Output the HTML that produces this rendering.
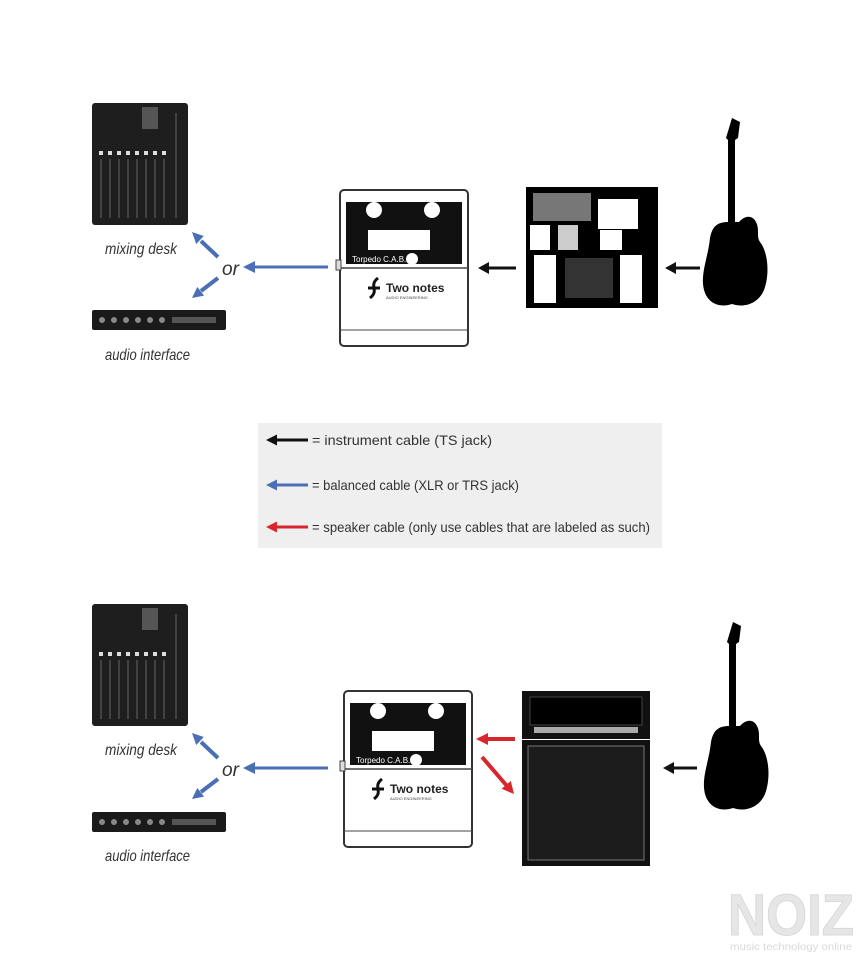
<!DOCTYPE html>
<html><head><meta charset="utf-8"><style>
html,body{margin:0;padding:0;background:#fff;}
svg{display:block;}
text{font-family:"Liberation Sans",sans-serif;}
</style></head><body>
<svg width="865" height="960" viewBox="0 0 865 960" xmlns="http://www.w3.org/2000/svg">
<defs>
<g id="mixer">
<rect x="0" y="0" width="96" height="122" rx="3" fill="#1e1e1e"/>
<rect x="50" y="4" width="16" height="22" fill="#555"/>
<g fill="#ddd"><rect x="7" y="48" width="4" height="4"/><rect x="16" y="48" width="4" height="4"/><rect x="25" y="48" width="4" height="4"/><rect x="34" y="48" width="4" height="4"/><rect x="43" y="48" width="4" height="4"/><rect x="52" y="48" width="4" height="4"/><rect x="61" y="48" width="4" height="4"/><rect x="70" y="48" width="4" height="4"/></g>
<g stroke="#666" stroke-width="1"><line x1="9" y1="56" x2="9" y2="115"/><line x1="18" y1="56" x2="18" y2="115"/><line x1="27" y1="56" x2="27" y2="115"/><line x1="36" y1="56" x2="36" y2="115"/><line x1="45" y1="56" x2="45" y2="115"/><line x1="54" y1="56" x2="54" y2="115"/><line x1="63" y1="56" x2="63" y2="115"/><line x1="72" y1="56" x2="72" y2="115"/><line x1="84" y1="10" x2="84" y2="115"/></g>
</g>
<g id="iface">
<rect x="0" y="0" width="134" height="20" rx="2" fill="#1a1a1a"/>
<g fill="#888"><circle cx="10" cy="10" r="3"/><circle cx="22" cy="10" r="3"/><circle cx="34" cy="10" r="3"/><circle cx="46" cy="10" r="3"/><circle cx="58" cy="10" r="3"/><circle cx="70" cy="10" r="3"/></g>
<rect x="80" y="7" width="44" height="6" fill="#555"/>
</g>
<g id="torp">
<rect x="0" y="0" width="128" height="156" rx="4" fill="#fff" stroke="#333" stroke-width="2"/>
<rect x="6" y="12" width="116" height="62" fill="#111"/>
<circle cx="34" cy="20" r="8" fill="#fff"/><circle cx="92" cy="20" r="8" fill="#fff"/>
<rect x="28" y="40" width="62" height="20" fill="#fff"/>
<text x="12" y="72" font-size="8" fill="#fff">Torpedo C.A.B.</text>
<circle cx="72" cy="69" r="6" fill="#fff"/>
<line x1="0" y1="78" x2="128" y2="78" stroke="#444" stroke-width="1.5"/>
<line x1="0" y1="140" x2="128" y2="140" stroke="#444" stroke-width="1"/>
<text x="46" y="102" font-size="12" font-weight="bold" fill="#222">Two notes</text>
<text x="46" y="109" font-size="4" fill="#444">AUDIO ENGINEERING</text>
<path d="M30,108 C40,100 28,96 38,88 M28,98 L40,98" stroke="#111" stroke-width="3" fill="none"/>
<rect x="-4" y="70" width="5" height="10" fill="#ddd" stroke="#444"/>
</g>
<g id="guitar" fill="#000">
<path d="M28,0 L36,4 L34,20 L31,22 L31,104 L35,104 C40,98 48,96 52,104 C56,112 52,118 56,124 C64,134 66,156 60,172 C54,186 40,190 28,186 C16,190 4,186 0,172 C-4,156 4,140 6,120 C8,108 14,104 24,104 L24,22 L22,20 Z"/>
</g>
<g id="orarrows">
<line x1="218" y1="257" x2="201" y2="241" stroke="#4a6fb5" stroke-width="4"/>
<polygon points="192,232 203.8,236 196.2,244" fill="#4a6fb5"/>
<line x1="218" y1="278" x2="201" y2="291" stroke="#4a6fb5" stroke-width="4"/>
<polygon points="192,298 204.1,295.6 197.3,287" fill="#4a6fb5"/>
<line x1="328" y1="267" x2="252" y2="267" stroke="#4a6fb5" stroke-width="3"/>
<polygon points="243,267 255,261 255,273" fill="#4a6fb5"/>
</g>
</defs>

<!-- TOP -->
<use href="#mixer" x="92" y="103"/>
<text x="105" y="254" font-size="16" font-style="italic" fill="#333" textLength="72" lengthAdjust="spacingAndGlyphs">mixing desk</text>
<use href="#iface" x="92" y="310"/>
<text x="105" y="360" font-size="16" font-style="italic" fill="#333" textLength="85" lengthAdjust="spacingAndGlyphs">audio interface</text>
<use href="#orarrows"/>
<text x="222" y="275" font-size="19" font-style="italic" fill="#333" textLength="17" lengthAdjust="spacingAndGlyphs">or</text>
<use href="#torp" x="340" y="190"/>
<line x1="516" y1="268" x2="488" y2="268" stroke="#111" stroke-width="3"/>
<polygon points="478,268 489,262 489,274" fill="#111"/>
<rect x="526" y="187" width="132" height="121" fill="#000"/>
<rect x="533" y="193" width="58" height="28" fill="#777"/>
<rect x="598" y="199" width="40" height="30" fill="#fff"/>
<rect x="530" y="225" width="20" height="25" fill="#fff"/><rect x="558" y="225" width="20" height="25" fill="#ccc"/><rect x="600" y="230" width="22" height="20" fill="#fff"/>
<rect x="534" y="255" width="22" height="48" fill="#fff"/><rect x="620" y="255" width="22" height="48" fill="#fff"/>
<rect x="565" y="258" width="48" height="40" fill="#333"/>
<line x1="700" y1="268" x2="674" y2="268" stroke="#111" stroke-width="3"/>
<polygon points="665,268 676,262 676,274" fill="#111"/>
<use href="#guitar" x="704" y="118"/>

<!-- LEGEND -->
<rect x="258" y="423" width="404" height="125" fill="#efefef"/>
<line x1="308" y1="440" x2="275" y2="440" stroke="#111" stroke-width="3"/>
<polygon points="266,440 277,434.5 277,445.5" fill="#111"/>
<line x1="308" y1="485" x2="275" y2="485" stroke="#4a6fb5" stroke-width="3"/>
<polygon points="266,485 277,479.5 277,490.5" fill="#4a6fb5"/>
<line x1="308" y1="527" x2="275" y2="527" stroke="#d9262c" stroke-width="3"/>
<polygon points="266,527 277,521.5 277,532.5" fill="#d9262c"/>
<text x="312" y="445" font-size="14" fill="#333" textLength="180" lengthAdjust="spacingAndGlyphs">= instrument cable (TS jack)</text>
<text x="312" y="490" font-size="14" fill="#333" textLength="207" lengthAdjust="spacingAndGlyphs">= balanced cable (XLR or TRS jack)</text>
<text x="312" y="532" font-size="14" fill="#333" textLength="338" lengthAdjust="spacingAndGlyphs">= speaker cable (only use cables that are labeled as such)</text>

<!-- BOTTOM -->
<use href="#mixer" x="92" y="604"/>
<text x="105" y="755" font-size="16" font-style="italic" fill="#333" textLength="72" lengthAdjust="spacingAndGlyphs">mixing desk</text>
<use href="#iface" x="92" y="812"/>
<text x="105" y="861" font-size="16" font-style="italic" fill="#333" textLength="85" lengthAdjust="spacingAndGlyphs">audio interface</text>
<use href="#orarrows" y="501"/>
<text x="222" y="776" font-size="19" font-style="italic" fill="#333" textLength="17" lengthAdjust="spacingAndGlyphs">or</text>
<use href="#torp" x="344" y="691"/>
<line x1="515" y1="739" x2="486" y2="739" stroke="#d9262c" stroke-width="4"/>
<polygon points="476,739 488,733 488,745" fill="#d9262c"/>
<line x1="482" y1="757" x2="507" y2="786" stroke="#d9262c" stroke-width="4"/>
<polygon points="514,794 510.8,781 501.6,788.8" fill="#d9262c"/>
<rect x="522" y="691" width="128" height="48" fill="#111"/>
<rect x="530" y="697" width="112" height="28" fill="#000" stroke="#444"/>
<rect x="534" y="727" width="104" height="6" fill="#aaa"/>
<rect x="522" y="740" width="128" height="126" fill="#111"/>
<rect x="528" y="746" width="116" height="114" fill="#1c1c1c" stroke="#777" stroke-width="1"/>
<line x1="697" y1="768" x2="672" y2="768" stroke="#111" stroke-width="3"/>
<polygon points="663,768 674,762 674,774" fill="#111"/>
<use href="#guitar" x="705" y="622"/>

<!-- watermark -->
<text x="728" y="935" font-size="58" font-weight="bold" fill="#e6e6e6" stroke="#d8d8d8" stroke-width="1" textLength="126" lengthAdjust="spacingAndGlyphs">NOIZ</text>
<text x="730" y="950" font-size="10" fill="#d8d8d8" textLength="122" lengthAdjust="spacingAndGlyphs">music technology online</text>
</svg>
</body></html>
